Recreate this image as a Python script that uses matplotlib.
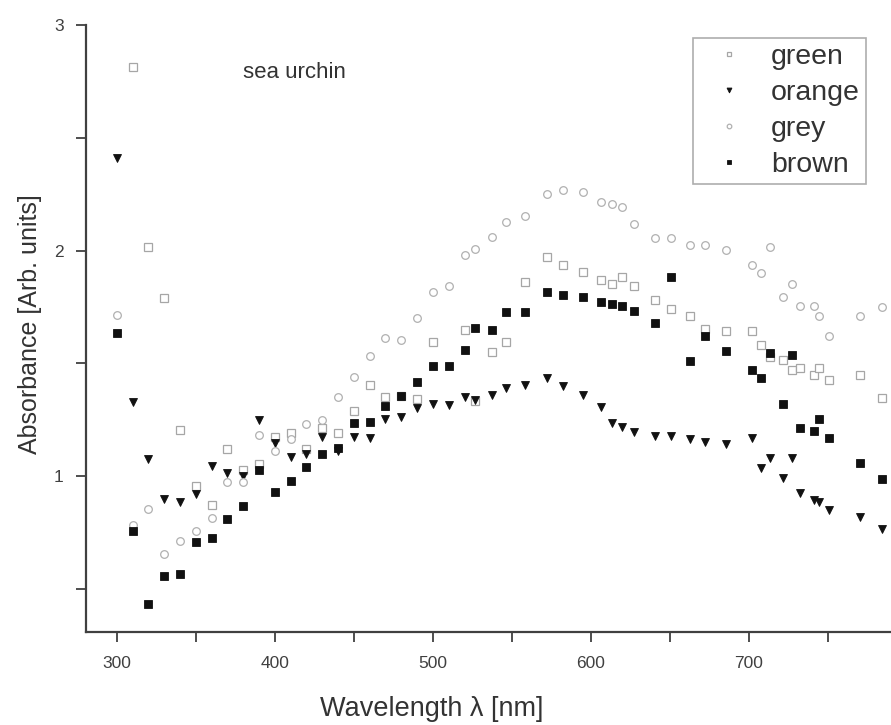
import matplotlib
matplotlib.use("Agg")
import matplotlib.pyplot as plt
from matplotlib.ticker import FixedLocator

plt.rcParams['font.family'] = ['Liberation Sans', 'DejaVu Sans']

# shared wavelength grid (nm)
wl = [300, 310, 320, 330, 340, 350, 360, 370, 380, 390, 400, 410, 420, 430, 440,
      450, 460, 470, 480, 490, 500, 510, 520.5, 527, 537.5, 546.6, 558.2, 572,
      582.1, 595.1, 606.7, 613.5, 620, 627.2, 640.9, 651, 662.7, 672.2, 685.4,
      702.3, 707.6, 713.7, 721.7, 727.4, 732.3, 741.3, 744.5, 750.6, 770.2, 784.4]

green_wl = [310, 320, 330, 340, 350, 360, 370, 380, 390, 400, 410, 420, 430, 440,
            450, 460, 470, 480, 490, 500, 520.5, 527, 537.5, 546.6, 558.2, 572,
            582.1, 595.1, 606.7, 613.5, 620, 627.2, 640.9, 651, 662.7, 672.2, 685.4,
            702.3, 707.6, 713.7, 721.7, 727.4, 732.3, 741.3, 744.5, 750.6, 770.2, 784.4]
green = [2.816, 2.017, 1.79, 1.207, 0.957, 0.873, 1.12, 1.028, 1.054, 1.175, 1.19,
         1.119, 1.215, 1.19, 1.29, 1.405, 1.35, 1.356, 1.341, 1.595, 1.649, 1.334,
         1.55, 1.595, 1.86, 1.972, 1.936, 1.904, 1.87, 1.852, 1.882, 1.842, 1.783,
         1.742, 1.71, 1.653, 1.643, 1.643, 1.58, 1.528, 1.514, 1.472, 1.481, 1.447,
         1.481, 1.425, 1.447, 1.349]

orange = [2.41, 1.33, 1.076, 0.898, 0.884, 0.92, 1.046, 1.013, 1.0, 1.249, 1.149,
          1.087, 1.097, 1.175, 1.11, 1.175, 1.168, 1.256, 1.264, 1.303, 1.322, 1.318,
          1.352, 1.34, 1.36, 1.393, 1.403, 1.436, 1.40, 1.359, 1.308, 1.238, 1.219,
          1.197, 1.18, 1.18, 1.165, 1.153, 1.143, 1.171, 1.035, 1.079, 0.991, 1.079,
          0.928, 0.895, 0.885, 0.851, 0.818, 0.767]

grey = [1.715, 0.785, 0.854, 0.656, 0.714, 0.756, 0.815, 0.976, 0.976, 1.182, 1.112,
        1.165, 1.231, 1.249, 1.352, 1.44, 1.533, 1.614, 1.605, 1.702, 1.815, 1.845,
        1.98, 2.007, 2.061, 2.129, 2.154, 2.249, 2.268, 2.26, 2.217, 2.205, 2.195,
        2.12, 2.054, 2.055, 2.026, 2.024, 2.004, 1.937, 1.90, 2.014, 1.793, 1.852,
        1.754, 1.754, 1.712, 1.621, 1.712, 1.749]

brown = [1.634, 0.756, 0.432, 0.557, 0.567, 0.707, 0.726, 0.81, 0.869, 1.028, 0.932,
         0.981, 1.04, 1.097, 1.125, 1.238, 1.241, 1.312, 1.356, 1.418, 1.491, 1.487,
         1.558, 1.658, 1.649, 1.727, 1.727, 1.818, 1.805, 1.796, 1.774, 1.764, 1.756,
         1.731, 1.68, 1.882, 1.513, 1.621, 1.555, 1.472, 1.437, 1.546, 1.319, 1.536,
         1.212, 1.2, 1.256, 1.168, 1.06, 0.987]

x_ticks = [300, 400, 500, 600, 700]
x_minor = [350, 450, 550, 650, 750]
y_ticks = [1, 2, 3]
y_minor = [0.5, 1.5, 2.5]

fig = plt.figure(figsize=(8.91, 7.25), dpi=100)
ax = fig.add_axes([86/891, 93/725, 1 - 86/891, 607/725])

txt = '#333333'
ax.plot(green_wl, green, ls='none', marker='s', ms=5.6, mfc='white', mec='#a6a6a6',
        mew=0.9, label='green')
ax.plot(wl, orange, ls='none', marker='v', ms=5.9, mfc='#111111', mec='#111111',
        mew=0.6, label='orange')
ax.plot(wl, grey, ls='none', marker='o', ms=5.5, mfc='white', mec='#b0b0b0',
        mew=0.9, label='grey')
ax.plot(wl, brown, ls='none', marker='s', ms=5.3, mfc='#111111', mec='#111111',
        mew=0.6, label='brown')

ax.set_xlim(280.5, 790)
ax.set_ylim(0.31, 3.0)
ax.xaxis.set_major_locator(FixedLocator(x_ticks))
ax.xaxis.set_minor_locator(FixedLocator(x_minor))
ax.yaxis.set_major_locator(FixedLocator(y_ticks))
ax.yaxis.set_minor_locator(FixedLocator(y_minor))
ax.tick_params(which='both', direction='out', length=7, width=1.3, color='#404040',
               labelsize=12.5, labelcolor='#404040')
ax.tick_params(axis='x', which='both', pad=10)
ax.tick_params(axis='y', which='both', pad=9)

for s in ['top', 'right']:
    ax.spines[s].set_visible(False)
for s in ['left', 'bottom']:
    ax.spines[s].set_linewidth(1.6)
    ax.spines[s].set_color('#404040')

ax.set_xlabel('Wavelength λ [nm]', fontsize=19.5, color=txt)
ax.xaxis.set_label_coords(0.43, -0.105)
ax.set_ylabel('Absorbance [Arb. units]', fontsize=18, color=txt)
ax.yaxis.set_label_coords(-0.055, 0.507)

ax.text(379.7, 2.79, 'sea urchin', fontsize=16, color=txt, va='center', ha='left')

leg = ax.legend(loc='upper left', bbox_to_anchor=(0.754, 0.979), borderaxespad=0,
                fontsize=20.5, frameon=True, fancybox=False, markerscale=0.6,
                handlelength=2.1, handletextpad=0.42, borderpad=0.22,
                labelspacing=0.35)
leg.get_frame().set_edgecolor('#999999')
leg.get_frame().set_linewidth(1.2)
for t in leg.get_texts():
    t.set_color(txt)

fig.savefig('out.png', dpi=100)
